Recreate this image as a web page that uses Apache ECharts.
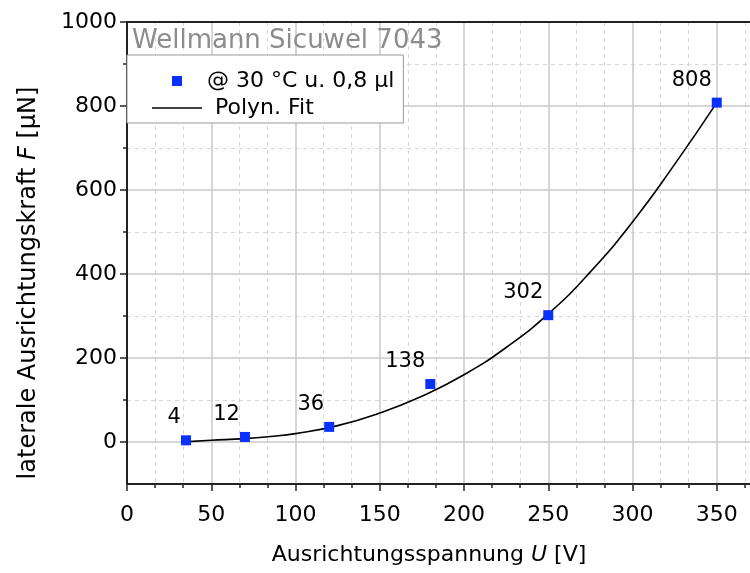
<!DOCTYPE html>
<html>
<head>
<meta charset="utf-8">
<script src="https://cdn.jsdelivr.net/npm/echarts@6/dist/echarts.min.js"></script>
<style>html,body{margin:0;padding:0;background:#fff;}#c{width:750px;height:573px;}</style>
</head>
<body>
<div id="c"></div>
<script>
// Measured data points
const VOLTAGE = [35, 70, 120, 180, 250, 350];
const FORCE = [4, 12, 36, 138, 302, 808];
// Polynomial fit curve
const FIT_U = [36, 50, 70, 85, 100, 125, 150, 175, 200, 225, 250, 275, 300, 325, 350];
const FIT_F = [1, 4, 8, 13, 20, 39, 69, 109, 160, 225, 305, 405, 524, 661, 808];
// Tick values
const Y_MAJOR = [0, 200, 400, 600, 800, 1000];
const Y_MINOR = [100, 300, 500, 700, 900];

const TITLE = 'Wellmann Sicuwel 7043';
const SERIES_DATA = '@ 30 °C u. 0,8 µl';
const SERIES_FIT = 'Polyn. Fit';
const FONT = 'DejaVu Sans';

const chart = echarts.init(document.getElementById('c'));
const axisColor = '#222';
const majorGrid = '#c8c8c8';
const minorGrid = '#d6d6d6';

chart.setOption({
  animation: false,
  backgroundColor: '#fff',
  title: {
    text: TITLE, left: 132, top: 28, padding: 0,
    textStyle: {fontFamily: FONT, fontSize: 26, fontWeight: 'normal', color: '#8c8c8c'}
  },
  legend: {
    left: 127, top: 55, orient: 'vertical',
    padding: [15, 9, 4, 25],
    itemWidth: 50, itemHeight: 10, itemGap: 5,
    borderColor: '#999', borderWidth: 1, backgroundColor: '#fff',
    textStyle: {fontFamily: FONT, fontSize: 22, color: '#000', lineHeight: 22,
      rich: {p: {fontFamily: FONT, fontSize: 22, color: '#000', padding: [0, 0, 0, 8]}}},
    formatter: n => n === SERIES_FIT ? '{p|' + n + '}' : n,
    data: [
      {name: SERIES_DATA, icon: 'path://M0,0H10V10H0Z'},
      {name: SERIES_FIT, icon: 'path://M0,0H50V1.6H0Z', itemStyle: {color: '#000'}}
    ]
  },
  grid: {left: 127, top: 22, right: -51, bottom: 89, containLabel: false, outerBoundsMode: 'none'},
  xAxis: [{
    type: 'value', min: 0, max: 400, interval: 50, position: 'bottom',
    name: 'Ausrichtungsspannung {i|U} [V]', nameLocation: 'middle', nameGap: 60,
    nameTextStyle: {fontFamily: FONT, fontSize: 22, color: '#000', padding: [0, 70, 0, 0],
      rich: {i: {fontFamily: FONT, fontSize: 22, fontStyle: 'italic', color: '#000'}}},
    axisLine: {show: true, onZero: false, lineStyle: {color: axisColor, width: 2}},
    axisTick: {show: true, inside: false, length: 7, lineStyle: {color: axisColor, width: 1.5}},
    minorTick: {show: true, splitNumber: 3, length: 4, lineStyle: {color: axisColor, width: 1.5}},
    axisLabel: {fontFamily: FONT, fontSize: 22, color: '#000', margin: 20, formatter: v => String(v)},
    splitLine: {show: true, lineStyle: {color: majorGrid, width: 1.5}},
    minorSplitLine: {show: true, lineStyle: {color: minorGrid, width: 1, type: [4, 4]}}
  }, {
    type: 'value', min: 0, max: 400, position: 'top',
    axisLine: {show: true, onZero: false, lineStyle: {color: axisColor, width: 2}},
    axisTick: {show: false}, axisLabel: {show: false}, splitLine: {show: false}
  }],
  yAxis: [{
    type: 'value', min: -100, max: 1000, position: 'left',
    name: 'laterale Ausrichtungskraft {i|F} [µN]', nameLocation: 'middle', nameGap: 86,
    nameTextStyle: {fontFamily: FONT, fontSize: 24, color: '#000', padding: [0, 60, 0, 0],
      rich: {i: {fontFamily: FONT, fontSize: 24, fontStyle: 'italic', color: '#000'}}},
    axisLine: {show: true, onZero: false, lineStyle: {color: axisColor, width: 2}},
    axisTick: {show: true, inside: false, length: 7, customValues: Y_MAJOR, lineStyle: {color: axisColor, width: 1.5}},
    axisLabel: {fontFamily: FONT, fontSize: 22, color: '#000', margin: 10, customValues: Y_MAJOR, formatter: v => String(v)},
    splitLine: {show: true, lineStyle: {color: majorGrid, width: 1.5}}
  }, {
    type: 'value', min: -100, max: 1000, position: 'left',
    axisLine: {show: false},
    axisTick: {show: true, inside: false, length: 4, customValues: Y_MINOR, lineStyle: {color: axisColor, width: 1.5}},
    axisLabel: {show: false},
    splitLine: {show: true, lineStyle: {color: minorGrid, width: 1, type: [4, 4]}}
  }],
  series: [{
    name: SERIES_FIT, type: 'line', xAxisIndex: 0, yAxisIndex: 0,
    data: FIT_U.map((u, i) => [u, FIT_F[i]]),
    smooth: true, symbol: 'none', z: 3,
    lineStyle: {color: '#000', width: 1.6}, itemStyle: {color: '#000'}
  }, {
    name: SERIES_DATA, type: 'scatter', xAxisIndex: 0, yAxisIndex: 0,
    data: VOLTAGE.map((u, i) => [u, FORCE[i]]),
    symbol: 'rect', symbolSize: 10, z: 4,
    itemStyle: {color: '#0a30ff', opacity: 1},
    label: {show: true, position: 'top', align: 'right', distance: 5, offset: [-5, -2],
      fontFamily: FONT, fontSize: 21, color: '#000', formatter: p => String(p.value[1])}
  }]
});
</script>
</body>
</html>
